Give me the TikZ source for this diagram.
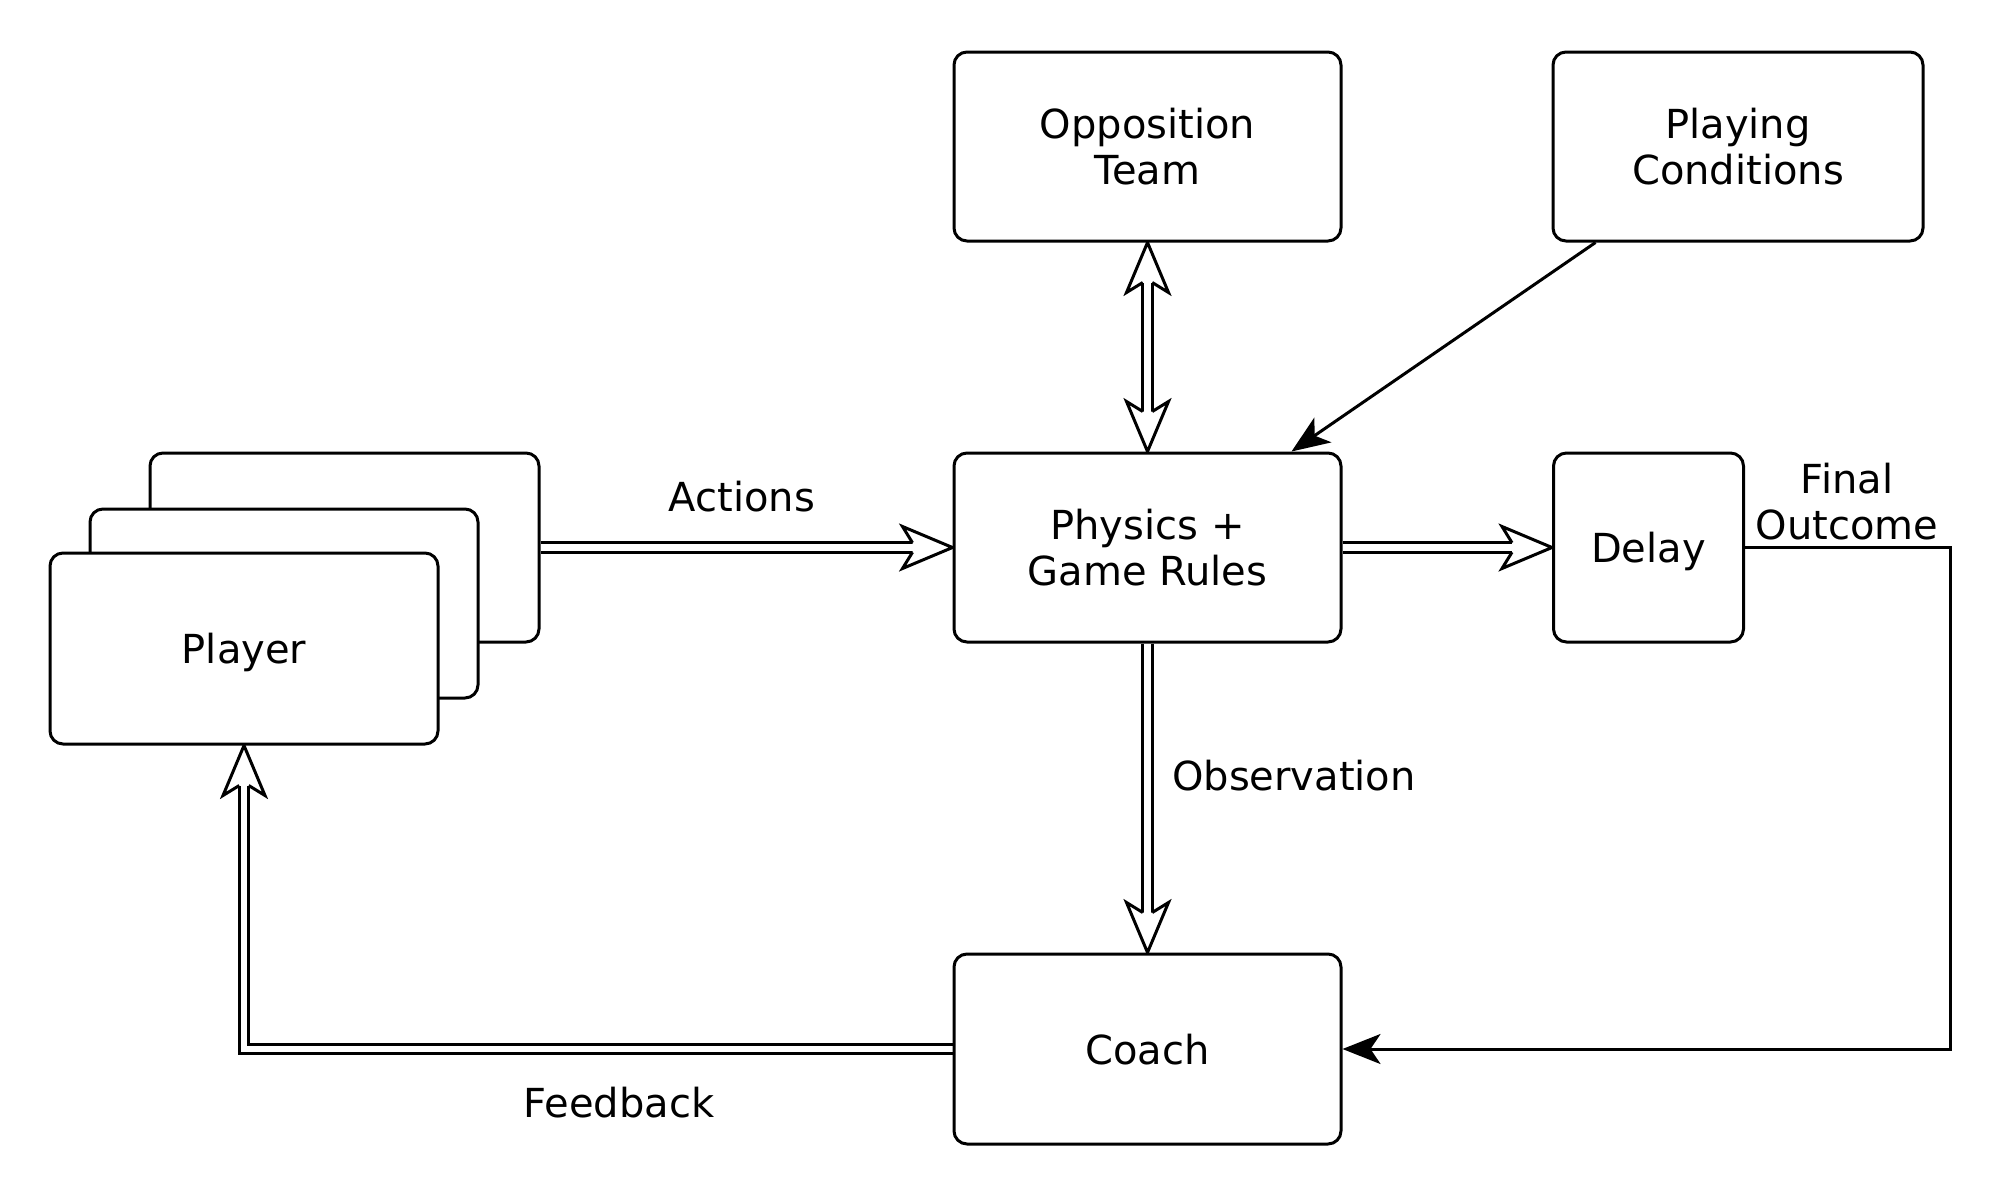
\documentclass[tikz,border=0pt]{standalone}
\usepackage{fontspec}
\setmainfont{DejaVu Sans}
\usetikzlibrary{arrows.meta,calc,backgrounds}
\tikzset{
  box/.style={draw, line width=3pt, rounded corners=13pt, fill=white, align=center, inner sep=0pt, font=\fontsize{40}{46.5}\selectfont},
  lbl/.style={align=center, inner sep=0pt, font=\fontsize{40}{46.5}\selectfont},
  dbl/.style={draw, line width=3pt, double=white, double distance=6.5pt},
  headline/.style={draw, line width=3pt, fill=white, miter limit=20},
  plainarrow/.style={draw, line width=3pt, -{Stealth[length=38pt, width=30pt, inset=10pt]}},
  openhead/.pic={\path[headline] (-40,-4.75) -- (-50,-21) -- (0,0) -- (-50,21) -- (-40,4.75);}
}
\begin{document}
\begin{tikzpicture}[x=1pt,y=-1pt]
\useasboundingbox (0,0) rectangle (2000,1197);
% nodes
\node[box, minimum width=387pt, minimum height=189pt] (opp) at (1147.5,146.5) {Opposition\\Team};
\node[box, minimum width=370pt, minimum height=189pt] (play) at (1738,146.5) {Playing\\Conditions};
\node[box, minimum width=387pt, minimum height=189pt] (phys) at (1147.5,547.5) {Physics +\\Game Rules};
\node[box, minimum width=190pt, minimum height=189pt, text depth=0pt] (delay) at (1648.5,547.5) {Delay};
\node[box, minimum width=387pt, minimum height=190pt, text depth=0pt] (coach) at (1147.5,1049) {Coach};
\node[box, minimum width=389pt, minimum height=189pt] (back) at (344.5,547.5) {};
\node[box, minimum width=388pt, minimum height=189pt] (mid) at (284,603.5) {};
\node[box, minimum width=388pt, minimum height=191pt, text depth=0pt] (player) at (244,648.5) {Player};
% labels
\node[lbl] (actions) at (742,497) {Actions};
\node[lbl, anchor=west] (obs) at (1172,776) {Observation};
\node[lbl] (fb) at (619,1103) {Feedback};
\node[lbl] (fo) at (1847,501.5) {Final\\Outcome};
% connectors
\begin{scope}[on background layer]
\fill[white] (0,0) rectangle (2000,1197);
\path[dbl, shorten >=40pt] (back.east) -- (phys.west);
\pic at (phys.west) {openhead};
\path[dbl, shorten >=40pt, shorten <=40pt] (opp.south) -- (phys.north);
\pic[rotate=90] at (opp.south) {openhead};
\pic[rotate=-90] at (phys.north) {openhead};
\path[dbl, shorten >=40pt] (phys.south) -- (coach.north);
\pic[rotate=-90] at (coach.north) {openhead};
\path[dbl, shorten >=40pt] (phys.east) -- (delay.west);
\pic at (delay.west) {openhead};
\path[dbl, shorten >=40pt] (coach.west) -| (player.south);
\pic[rotate=90] at (player.south) {openhead};
\end{scope}
\draw[plainarrow] ($(play.south west)+(44,0)$) -- ($(phys.north east)+(-51,0)$);
\draw[plainarrow] (delay.east) -- ++(205,0) |- (coach.east);
\end{tikzpicture}
\end{document}
